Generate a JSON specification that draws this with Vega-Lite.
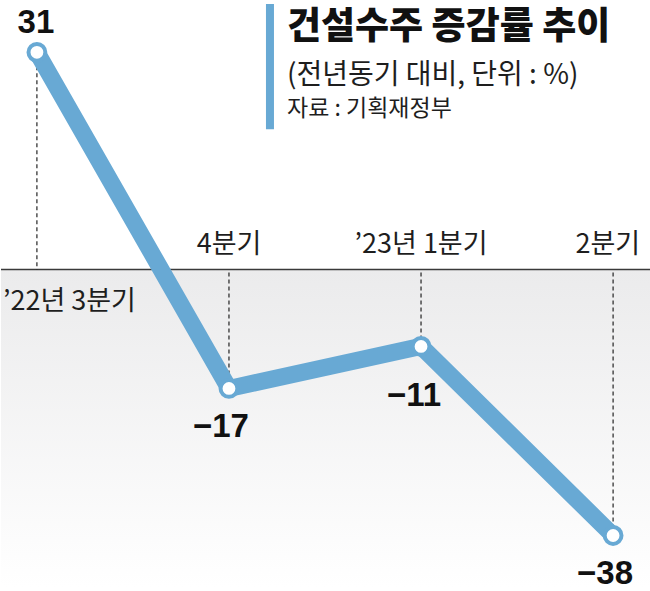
{
  "$schema": "https://vega.github.io/schema/vega-lite/v6.json",
  "width": 650,
  "height": 591,
  "padding": 0,
  "autosize": {"type": "fit", "contains": "padding"},
  "background": "#ffffff",
  "config": {
    "view": {"stroke": null},
    "text": {"font": "Noto Sans CJK KR", "color": "#1e1e1e"}
  },
  "datasets": {
    "orders": [
      {"quarter": "’22년 3분기", "change": 31},
      {"quarter": "4분기", "change": -17},
      {"quarter": "’23년 1분기", "change": -11},
      {"quarter": "2분기", "change": -38}
    ]
  },
  "data": {"name": "orders"},
  "encoding": {
    "x": {
      "field": "quarter",
      "type": "ordinal",
      "scale": {
        "type": "point",
        "padding": 0.187,
        "domain": ["’22년 3분기", "4분기", "’23년 1분기", "2분기"]
      },
      "axis": null
    },
    "y": {
      "field": "change",
      "type": "quantitative",
      "scale": {"domain": [-45.5, 37.9], "nice": false, "zero": false},
      "axis": null
    }
  },
  "layer": [
    {
      "transform": [{"filter": "datum.quarter == '4분기'"}],
      "mark": {
        "type": "rect",
        "fill": {
          "gradient": "linear",
          "x1": 0, "y1": 0, "x2": 0, "y2": 1,
          "stops": [
            {"offset": 0, "color": "#ebebec"},
            {"offset": 1, "color": "#ffffff"}
          ]
        }
      },
      "encoding": {
        "x": {"value": 0},
        "x2": {"value": 650},
        "y": {"datum": 0, "type": "quantitative"},
        "y2": {"datum": -45.5}
      }
    },
    {
      "transform": [{"filter": "datum.quarter == '4분기'"}],
      "mark": {"type": "rule", "color": "#3a3a3a", "strokeWidth": 1.5},
      "encoding": {
        "x": {"value": 0},
        "x2": {"value": 650},
        "y": {"datum": 0, "type": "quantitative"}
      }
    },
    {
      "mark": {"type": "rule", "color": "#111111", "strokeWidth": 1.1, "strokeDash": [4, 3]},
      "encoding": {"y2": {"datum": 0}}
    },
    {
      "mark": {"type": "line", "color": "#68a9d4", "strokeWidth": 17, "strokeJoin": "round", "strokeCap": "round"}
    },
    {
      "mark": {"type": "point", "shape": "circle", "filled": true, "fill": "#ffffff", "stroke": "#68a9d4", "strokeWidth": 4, "size": 283, "opacity": 1}
    },
    {
      "transform": [{"filter": "datum.change > 0"}],
      "mark": {"type": "text", "font": "Liberation Sans", "fontWeight": "bold", "fontSize": 33, "baseline": "alphabetic", "dy": -19, "dx": -1, "color": "#111111"},
      "encoding": {"text": {"field": "change", "type": "quantitative", "format": "d"}}
    },
    {
      "transform": [{"filter": "datum.change < 0 && datum.quarter != '’23년 1분기'"}],
      "mark": {"type": "text", "font": "Liberation Sans", "fontWeight": "bold", "fontSize": 33, "baseline": "alphabetic", "dy": 49, "dx": -8, "color": "#111111"},
      "encoding": {"text": {"field": "change", "type": "quantitative", "format": "d"}}
    },
    {
      "transform": [{"filter": "datum.quarter == '’23년 1분기'"}],
      "mark": {"type": "text", "font": "Liberation Sans", "fontWeight": "bold", "fontSize": 33, "baseline": "alphabetic", "dy": 60, "dx": -7, "color": "#111111"},
      "encoding": {"text": {"field": "change", "type": "quantitative", "format": "d"}}
    },
    {
      "transform": [{"filter": "datum.quarter == '’22년 3분기'"}],
      "mark": {"type": "text", "fontSize": 27, "align": "left", "baseline": "alphabetic", "dx": -34, "dy": 41},
      "encoding": {"y": {"datum": 0, "type": "quantitative"}, "text": {"field": "quarter"}}
    },
    {
      "transform": [{"filter": "datum.quarter == '4분기' || datum.quarter == '’23년 1분기'"}],
      "mark": {"type": "text", "fontSize": 27, "align": "center", "baseline": "alphabetic", "dy": -16},
      "encoding": {"y": {"datum": 0, "type": "quantitative"}, "text": {"field": "quarter"}}
    },
    {
      "transform": [{"filter": "datum.quarter == '2분기'"}],
      "mark": {"type": "text", "fontSize": 27, "align": "right", "baseline": "alphabetic", "dx": 27, "dy": -16},
      "encoding": {"y": {"datum": 0, "type": "quantitative"}, "text": {"field": "quarter"}}
    },
    {
      "transform": [{"filter": "datum.quarter == '4분기'"}],
      "mark": {"type": "rule", "color": "#68a9d4", "strokeWidth": 8, "xOffset": 41},
      "encoding": {
        "y": {"datum": 37.9, "type": "quantitative"},
        "y2": {"datum": 20.0}
      }
    },
    {
      "transform": [{"filter": "datum.quarter == '4분기'"}],
      "mark": {"type": "text", "fontSize": 37, "fontWeight": 900, "align": "left", "baseline": "alphabetic", "dx": 58, "color": "#111111"},
      "encoding": {
        "y": {"datum": 32.9, "type": "quantitative"},
        "text": {"value": "건설수주 증감률 추이"}
      }
    },
    {
      "transform": [{"filter": "datum.quarter == '4분기'"}],
      "mark": {"type": "text", "fontSize": 28, "align": "left", "baseline": "alphabetic", "dx": 58},
      "encoding": {
        "y": {"datum": 26.5, "type": "quantitative"},
        "text": {"value": "(전년동기 대비, 단위 : %)"}
      }
    },
    {
      "transform": [{"filter": "datum.quarter == '4분기'"}],
      "mark": {"type": "text", "fontSize": 23, "align": "left", "baseline": "alphabetic", "dx": 58},
      "encoding": {
        "y": {"datum": 21.9, "type": "quantitative"},
        "text": {"value": "자료 : 기획재정부"}
      }
    }
  ]
}
